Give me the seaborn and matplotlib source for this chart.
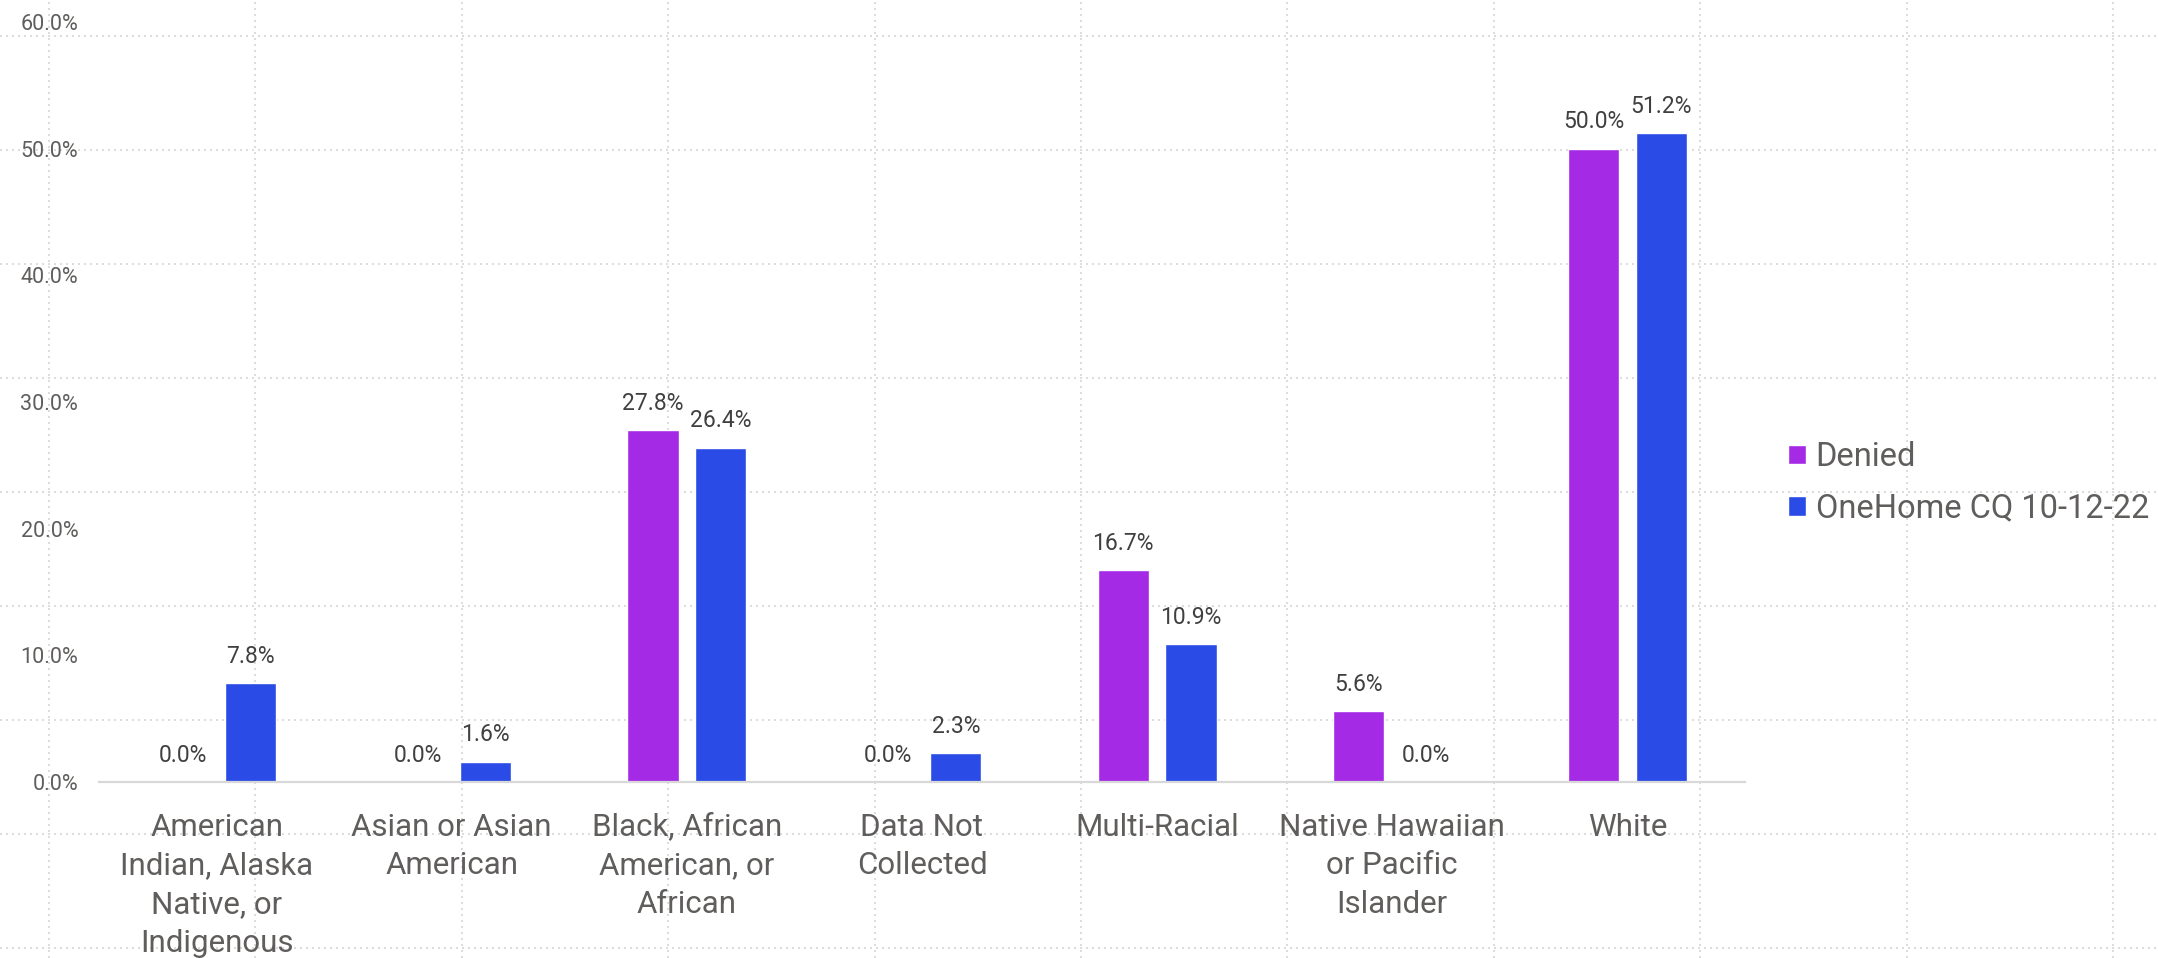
import numpy as np
import pandas as pd
import matplotlib
matplotlib.use("Agg")
import matplotlib.pyplot as plt
import seaborn as sns

categories = [
    "American\nIndian, Alaska\nNative, or\nIndigenous",
    "Asian or Asian\nAmerican",
    "Black, African\nAmerican, or\nAfrican",
    "Data Not\nCollected",
    "Multi-Racial",
    "Native Hawaiian\nor Pacific\nIslander",
    "White",
]
series_names = ["Denied", "OneHome CQ 10-12-22"]
denied = [0.0, 0.0, 27.8, 0.0, 16.7, 5.6, 50.0]
onehome = [7.8, 1.6, 26.4, 2.3, 10.9, 0.0, 51.2]
y_ticks = [0, 10, 20, 30, 40, 50, 60]

colors = ["#A42AE6", "#2A4BE6"]
tick_gray = "#605E5C"
label_gray = "#404040"

df = pd.DataFrame({
    "category": categories * 2,
    "series": [series_names[0]] * len(categories) + [series_names[1]] * len(categories),
    "value": denied + onehome,
})

sns.set_theme(style="white")
plt.rcParams["font.family"] = ["Roboto", "DejaVu Sans"]

W, H = 2158, 958
fig = plt.figure(figsize=(W / 100, H / 100), dpi=100)

# dotted canvas grid behind the whole figure
bg = fig.add_axes([0, 0, 1, 1], zorder=-5)
bg.set_xlim(0, W)
bg.set_ylim(H, 0)
bg.set_xticks(np.arange(49, W, 206.4))
bg.set_yticks(np.arange(36, H, 114.0))
bg.grid(True, color="#DCDCDC", linestyle=(0, (1, 2)), linewidth=1.44)
bg.tick_params(length=0, labelbottom=False, labelleft=False)
for s in bg.spines.values():
    s.set_visible(False)
bg.set_facecolor("white")

ax = fig.add_axes([99 / W, 1 - 782 / H, (1745 - 99) / W, (782 - 22) / H])
ax.patch.set_alpha(0)

sns.barplot(
    data=df, x="category", y="value", hue="series",
    palette=colors, width=0.576, gap=0.243, ax=ax,
    saturation=1, legend=True,
)

ax.set_xlim(-0.5, len(categories) - 0.5)
ax.set_ylim(0, 60)
ax.set_yticks(y_ticks)
ax.set_yticklabels([f"{v:.1f}%" for v in y_ticks])
ax.set_xlabel("")
ax.set_ylabel("")
ax.grid(False)
for name, s in ax.spines.items():
    s.set_visible(name == "bottom")
ax.spines["bottom"].set_color("#D8D8D8")
ax.spines["bottom"].set_linewidth(1.6)

ax.tick_params(axis="y", length=0, pad=15, labelsize=15.5, labelcolor=tick_gray)
ax.tick_params(axis="x", length=0, pad=22, labelsize=22.5, labelcolor=tick_gray)
for t in ax.get_xticklabels():
    t.set_linespacing(1.42)
    t.set_multialignment("center")

for cont, vals in zip(ax.containers, [denied, onehome]):
    ax.bar_label(cont, labels=[f"{v:.1f}%" for v in vals], padding=11,
                 fontsize=16.5, color=label_gray)

handles, labels = ax.get_legend_handles_labels()
ax.get_legend().remove()
fig.legend(handles, labels, loc="center left", bbox_to_anchor=(0.8285, 0.496),
           frameon=False, fontsize=23.5, labelcolor=tick_gray,
           handlelength=0.55, handleheight=0.55, handletextpad=0.3,
           labelspacing=0.6, borderpad=0, borderaxespad=0)

fig.savefig("out.png", dpi=100)
